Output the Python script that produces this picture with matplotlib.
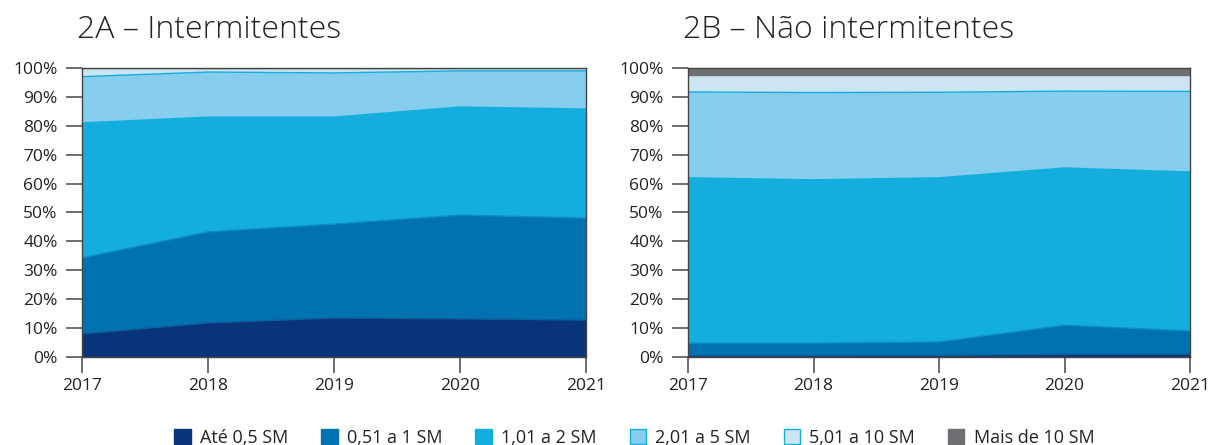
import matplotlib
matplotlib.use("Agg")
import matplotlib.pyplot as plt
from matplotlib.patches import Patch
import numpy as np

plt.rcParams['font.family'] = ['Open Sans', 'DejaVu Sans']

years = [2017, 2018, 2019, 2020, 2021]
categories = ["Até 0,5 SM", "0,51 a 1 SM", "1,01 a 2 SM", "2,01 a 5 SM", "5,01 a 10 SM", "Mais de 10 SM"]
colors = ["#0a347a", "#0072b0", "#13aede", "#86cdee", "#cce5f2", "#6e6f72"]
edge_colors = ["#0a347a", "#0a5f9a", "#0c8cc4", "#13aede", "#13aede", "#6e6f72"]

# 2A - Intermitentes (shares, %)
inter_ate05 = [8.0, 11.8, 13.5, 13.2, 12.8]
inter_051_1 = [26.3, 31.5, 32.5, 35.9, 35.3]
inter_101_2 = [46.7, 39.7, 37.0, 37.4, 37.7]
inter_201_5 = [16.0, 15.6, 15.3, 12.5, 13.2]
inter_501_10 = [2.9, 1.3, 1.6, 0.9, 0.9]
inter_mais10 = [0.1, 0.1, 0.1, 0.1, 0.1]

# 2B - Não intermitentes (shares, %)
nao_ate05 = [0.5, 0.5, 0.6, 0.9, 1.0]
nao_051_1 = [4.3, 4.3, 4.6, 10.1, 8.0]
nao_101_2 = [57.2, 56.5, 56.8, 54.4, 55.0]
nao_201_5 = [29.7, 30.2, 29.6, 26.6, 27.9]
nao_501_10 = [5.8, 6.0, 5.9, 5.5, 5.6]
nao_mais10 = [2.5, 2.5, 2.5, 2.5, 2.5]

panels = [
    ("2A – Intermitentes", [inter_ate05, inter_051_1, inter_101_2, inter_201_5, inter_501_10, inter_mais10]),
    ("2B – Não intermitentes", [nao_ate05, nao_051_1, nao_101_2, nao_201_5, nao_501_10, nao_mais10]),
]

fig = plt.figure(figsize=(12.15, 4.45), dpi=100)
positions = [[0.0675, 0.1978, 0.4148, 0.6494], [0.5663, 0.1978, 0.4132, 0.6494]]
tick_color = "#555555"
for pos, (title, series) in zip(positions, panels):
    ax = fig.add_axes(pos)
    ax.stackplot(years, *series, colors=colors, edgecolor=None, linewidth=0)
    cum = np.cumsum(np.array(series, dtype=float), axis=0)
    for i in range(len(series) - 1):
        ax.plot(years, cum[i], color=edge_colors[i + 1], lw=1.0)
    ax.set_xlim(2017, 2021)
    ax.set_ylim(0, 100)
    ax.set_xticks(years)
    ax.set_xticklabels([str(y) for y in years])
    ax.set_yticks(range(0, 101, 10))
    ax.set_yticklabels([f"{v}%" for v in range(0, 101, 10)])
    ax.tick_params(axis='both', labelsize=12.5, colors=tick_color, labelcolor="#222222",
                   length=11.5, width=1.2, direction='out')
    ax.tick_params(axis='y', pad=6)
    for s in ax.spines.values():
        s.set_color("#444444")
        s.set_linewidth(1.0)
    ax.text(-0.01, 1.075, title, transform=ax.transAxes, fontsize=23, fontweight='light',
            color="#222222", ha='left', va='bottom')

handles = [Patch(facecolor=c, edgecolor=(ec if i in (3, 4) else c), linewidth=1.0)
           for i, (c, ec) in enumerate(zip(colors, edge_colors))]
fig.legend(handles, categories, loc='lower center', bbox_to_anchor=(0.522, -0.04), ncol=6,
           frameon=False, fontsize=13, handlelength=0.9, handleheight=0.9,
           handletextpad=0.5, columnspacing=1.85, labelcolor="#222222")

fig.savefig("out.png", dpi=100)
